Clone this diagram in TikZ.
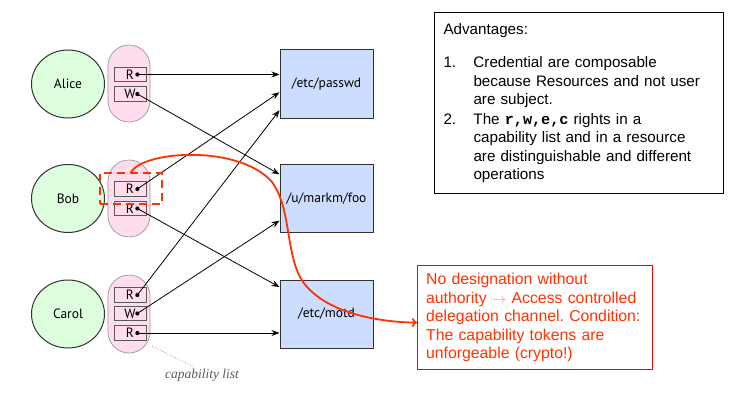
\documentclass[tikz,border=0pt]{standalone}
\usepackage{fontspec}
\setmainfont{Liberation Sans}
\setmonofont{Liberation Mono}
\newfontfamily\diagfont{PT Sans}
\newfontfamily\capfont{Liberation Serif}
\usetikzlibrary{calc,arrows.meta,shapes.geometric}
\definecolor{usergreen}{RGB}{221,255,221}
\definecolor{capspink}{RGB}{255,221,238}
\definecolor{resblue}{RGB}{204,221,255}
\definecolor{noteorange}{RGB}{255,51,0}
\definecolor{notered}{RGB}{255,0,0}
\frenchspacing
\begin{document}
\begin{tikzpicture}[x=1pt,y=-1pt,
  user/.style={ellipse, draw=black!80, line width=1pt, fill=usergreen, minimum width=73pt, minimum height=68pt, inner sep=0pt, font=\diagfont\fontsize{13.5}{15}\selectfont},
  caps/.style={rectangle, rounded corners=21pt, draw=black!40, line width=0.7pt, fill=capspink, minimum width=42pt, minimum height=77pt},
  rightbox/.style={rectangle, draw=black!65, line width=0.7pt, minimum width=32pt, minimum height=14.5pt, inner sep=0pt, font=\diagfont\fontsize{13.5}{14}\selectfont},
  res/.style={rectangle, draw=black!80, line width=1pt, fill=resblue, minimum width=93pt, minimum height=68pt, inner sep=0pt, font=\diagfont\fontsize{13.5}{15}\selectfont},
  conn/.style={-{Stealth[length=8pt,width=6pt]}, line width=0.8pt},
  note/.style={font=\fontsize{15.8}{18.6}\selectfont, text=noteorange, align=left}
]
\useasboundingbox (0,0) rectangle (739,412);

% users
\node[user] (alice) at (68,84) {Alice};
\node[user] (bob) at (68,198.5) {Bob};
\node[user] (carol) at (68,314) {Carol};

% capability lists
\node[caps] (acaps) at (129,83.5) {};
\node[caps] (bcaps) at (129,198.5) {};
\node[caps, minimum height=78pt] (ccaps) at (129,314) {};

\node[rightbox] (aR) at (130,74.5) {R\hspace{10pt}};
\node[rightbox] (aW) at (130,94) {W\hspace{10pt}};
\node[rightbox] (bR1) at (130,189) {R\hspace{10pt}};
\node[rightbox] (bR2) at (130,208.5) {R\hspace{10pt}};
\node[rightbox] (cR1) at (130,295) {R\hspace{10pt}};
\node[rightbox] (cW) at (130,313.5) {W\hspace{10pt}};
\node[rightbox] (cR2) at (130,333) {R\hspace{10pt}};

\foreach \b in {aR,aW,bR1,bR2,cR1,cW,cR2}{
  \coordinate (\b d) at ($(\b.east)+(-9,0)$);
  \fill (\b d) circle (2.1pt);
}

% resources
\node[res] (passwd) at (326.5,84) {/etc/passwd};
\node[res] (foo) at (326.5,198.5) {/u/markm/foo};
\node[res] (motd) at (326.5,314) {/etc/motd};

\coordinate (p1) at ($(passwd.north west)!0.34!(passwd.south west)$);
\coordinate (p2) at ($(passwd.north west)!0.62!(passwd.south west)$);
\coordinate (p3) at ($(passwd.north west)!0.88!(passwd.south west)$);
\coordinate (f1) at ($(foo.north west)!0.15!(foo.south west)$);
\coordinate (f2) at ($(foo.north west)!0.82!(foo.south west)$);
\coordinate (m1) at ($(motd.north west)!0.11!(motd.south west)$);
\coordinate (m2) at ($(motd.north west)!0.79!(motd.south west)$);

\draw[conn] (aRd) -- (aRd -| p1);
\draw[conn] (aWd) -- (f1);
\draw[conn] (bR1d) -- (p2);
\draw[conn] (bR2d) -- (m1);
\draw[conn] (cR1d) -- (p3);
\draw[conn] (cWd) -- (f2);
\draw[conn] (cR2d) -- (cR2d -| m2);

% capability list label
\node[font=\capfont\itshape\fontsize{13.5}{15}\selectfont, text=black!65] (caplbl) at (202,375) {capability list};
\draw[black!45, dotted, line width=0.8pt] ($(ccaps.south east)+(2,-7)$) -- ($(caplbl.north)+(-9,1)$);

% advantages box
\node[draw=black, line width=1pt, anchor=north west, minimum width=289pt, minimum height=181pt, text width=271pt, inner xsep=9pt, inner ysep=0pt, align=left, font=\fontsize{15.2}{18.5}\selectfont] (adv) at (434,12) {%
Advantages:\\[15pt]
\makebox[30pt][l]{1.}Credential are composable\\
\hspace*{30pt}because Resources and not user\\
\hspace*{30pt}are subject.\\[1pt]
\makebox[30pt][l]{2.}The \textbf{\texttt{r,w,e,c}} rights in a\\
\hspace*{30pt}capability list and in a resource\\
\hspace*{30pt}are distinguishable and different\\
\hspace*{30pt}operations};

% red note
\node[note, draw=notered, line width=1.2pt, anchor=north west, minimum width=235pt, minimum height=104pt, inner xsep=8pt, inner ysep=0pt, text width=218pt] (note) at (417,265) {%
No designation without\\
authority {\color{noteorange!55}$\rightarrow$} Access controlled\\
delegation channel. Condition:\\
The capability tokens are\\
unforgeable (crypto!)};

% dashed selection around Bob's first R
\node[draw=noteorange, dash pattern=on 8pt off 5pt, line width=1.8pt, minimum width=62pt, minimum height=31pt, inner sep=0pt] (bobsel) at (131,188.5) {};

% delegation curve
\draw[noteorange, line width=1.8pt, -{To[length=5pt,width=9pt]}]
  (bobsel.north) .. controls (145,150) and (240,145) .. (272,182)
  .. controls (292,210) and (285,255) .. (303,282)
  .. controls (325,312) and (375,322) .. ($(note.west)+(0,5)$);
\end{tikzpicture}
\end{document}
